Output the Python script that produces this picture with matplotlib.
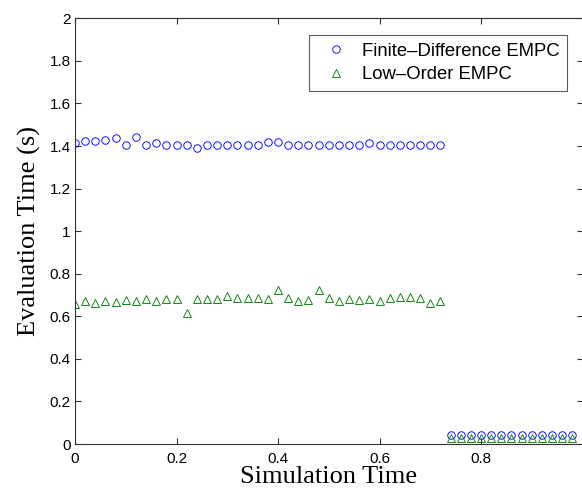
import matplotlib
matplotlib.use("Agg")
import matplotlib.pyplot as plt

# ---- data ----
t_main = [0.00, 0.02, 0.04, 0.06, 0.08, 0.10, 0.12, 0.14, 0.16, 0.18,
          0.20, 0.22, 0.24, 0.26, 0.28, 0.30, 0.32, 0.34, 0.36, 0.38,
          0.40, 0.42, 0.44, 0.46, 0.48, 0.50, 0.52, 0.54, 0.56, 0.58,
          0.60, 0.62, 0.64, 0.66, 0.68, 0.70, 0.72]
t_tail = [0.74, 0.76, 0.78, 0.80, 0.82, 0.84, 0.86, 0.88, 0.90, 0.92,
          0.94, 0.96, 0.98]

fd_main = [1.416, 1.423, 1.422, 1.427, 1.439, 1.406, 1.442, 1.405, 1.413, 1.403,
           1.403, 1.403, 1.391, 1.403, 1.403, 1.403, 1.403, 1.403, 1.403, 1.420,
           1.420, 1.403, 1.403, 1.403, 1.403, 1.403, 1.403, 1.403, 1.403, 1.414,
           1.403, 1.403, 1.403, 1.403, 1.403, 1.403, 1.403]
lo_main = [0.658, 0.670, 0.661, 0.670, 0.666, 0.677, 0.670, 0.680, 0.670, 0.683,
           0.683, 0.615, 0.683, 0.683, 0.680, 0.694, 0.686, 0.686, 0.684, 0.683,
           0.723, 0.684, 0.670, 0.677, 0.723, 0.684, 0.673, 0.681, 0.677, 0.681,
           0.673, 0.686, 0.692, 0.689, 0.686, 0.661, 0.670]
fd_tail = [0.04] * 13
lo_tail = [0.03] * 13

# the "1" label of the x axis falls outside the cropped picture, so it is left blank
x_ticks = [0, 0.2, 0.4, 0.6, 0.8, 1.0]
x_ticklabels = ["0", "0.2", "0.4", "0.6", "0.8", ""]
y_ticks = [0, 0.2, 0.4, 0.6, 0.8, 1.0, 1.2, 1.4, 1.6, 1.8, 2.0]
y_ticklabels = ["0", "0.2", "0.4", "0.6", "0.8", "1", "1.2", "1.4", "1.6", "1.8", "2"]

# ---- figure ----
fig = plt.figure(figsize=(5.82, 4.90), dpi=100)
ax = fig.add_axes([75 / 582, 46 / 490, 507.5 / 582, 425.7 / 490])

blue = "#0000ff"
green = "#008000"
ax.plot(t_main + t_tail, fd_main + fd_tail, linestyle="none", marker="o",
        ms=5.4, mfc="none", mec=blue, mew=0.65, label="Finite\u2013Difference EMPC")
ax.plot(t_main + t_tail, lo_main + lo_tail, linestyle="none", marker="^",
        ms=6, mfc="none", mec=green, mew=0.65, label="Low\u2013Order EMPC")

ax.set_xlim(0, 1)
ax.set_ylim(0, 2)
ax.set_xticks(x_ticks)
ax.set_xticklabels(x_ticklabels)
ax.set_yticks(y_ticks)
ax.set_yticklabels(y_ticklabels)

for lab in ax.get_xticklabels() + ax.get_yticklabels():
    lab.set_fontfamily("Liberation Sans")
    lab.set_fontsize(11)

ax.tick_params(direction="in", length=4, width=0.8, color="#333333",
               top=True, right=True, labelcolor="black")
ax.tick_params(axis="x", pad=6)
ax.tick_params(axis="y", pad=3)
for sp in ax.spines.values():
    sp.set_color("#333333")
    sp.set_linewidth(0.8)

ax.set_xlabel("Simulation Time", family="Liberation Serif", fontsize=19, labelpad=0)
ax.set_ylabel("Evaluation Time (s)", family="Liberation Serif", fontsize=19, labelpad=6)

leg = ax.legend(loc="upper right", bbox_to_anchor=(0.97, 0.96),
                prop={"family": "Liberation Sans", "size": 13.3},
                frameon=True, fancybox=False, edgecolor="#333333",
                handlelength=2.2, handletextpad=0.3, borderpad=0.4,
                labelspacing=0.35, borderaxespad=0)
leg.get_frame().set_linewidth(0.8)

fig.savefig("out.png", dpi=100, facecolor="white")
plt.close(fig)
